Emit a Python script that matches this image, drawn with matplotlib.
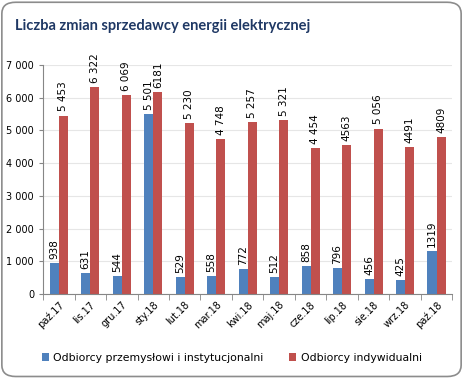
import numpy as np
import matplotlib.pyplot as plt
from matplotlib.patches import FancyBboxPatch

#- Data:
months = ['paź.17', 'lis.17', 'gru.17', 'sty.18', 'lut.18', 'mar.18', 'kwi.18',
          'maj.18', 'cze.18', 'lip.18', 'sie.18', 'wrz.18', 'paź.18']
industrial = [938, 631, 544, 5501, 529, 558, 772, 512, 858, 796, 456, 425, 1319]
households = [5453, 6322, 6069, 6181, 5230, 4748, 5257, 5321, 4454, 4563, 5056, 4491, 4809]
industrial_labels = ['938', '631', '544', '5 501', '529', '558', '772', '512', '858',
                     '796', '456', '425', '1319']
household_labels = ['5 453', '6 322', '6 069', '6181', '5 230', '4 748', '5 257', '5 321',
                    '4 454', '4563', '5 056', '4491', '4809']
yticks = [0, 1000, 2000, 3000, 4000, 5000, 6000, 7000]
ytick_labels = ['0', '1 000', '2 000', '3 000', '4 000', '5 000', '6 000', '7 000']

blue = '#4F81BD'
red = '#C0504D'

fig = plt.figure(figsize=(4.63, 3.78), dpi=100)
frame = FancyBboxPatch((0.004, 0.004), 0.992, 0.99,
                       boxstyle='round,pad=0,rounding_size=0.03',
                       transform=fig.transFigure, fc='white',
                       ec='#8c8c8c', lw=1.2, zorder=-10)
fig.patches.append(frame)
fig.text(0.032, 0.92, 'Liczba zmian sprzedawcy energii elektrycznej',
         fontsize=10.5, fontweight='bold', color='#1F3864', family='Lato')

ax = fig.add_axes([0.093, 0.222, 0.884, 0.606])
ax.patch.set_alpha(0)
x = np.arange(len(months))
w = 0.29
b1 = ax.bar(x - w / 2, industrial, w, color=blue, label='Odbiorcy przemysłowi i instytucjonalni', zorder=2)
b2 = ax.bar(x + w / 2, households, w, color=red, label='Odbiorcy indywidualni', zorder=2)

for rect, lab in zip(b1, industrial_labels):
    ax.annotate(lab, (rect.get_x() + rect.get_width() / 2, rect.get_height()),
                xytext=(0, 3), textcoords='offset points', rotation=90,
                ha='center', va='bottom', fontsize=7.5)
for rect, lab in zip(b2, household_labels):
    ax.annotate(lab, (rect.get_x() + rect.get_width() / 2, rect.get_height()),
                xytext=(0, 3), textcoords='offset points', rotation=90,
                ha='center', va='bottom', fontsize=7.5)

ax.set_xlim(-0.5, len(months) - 0.5)
ax.set_ylim(0, 7000)
ax.set_yticks(yticks)
ax.set_yticklabels(ytick_labels, fontsize=7)
ax.set_xticks(x)
ax.set_xticklabels(months, rotation=45, ha='right', rotation_mode='anchor', fontsize=7)
ax.tick_params(axis='x', length=0, pad=4)
ax.set_xticks(np.arange(len(months) + 1) - 0.5, minor=True)
ax.tick_params(axis='x', which='minor', length=4, color='#868686')
ax.tick_params(axis='y', length=3, color='#868686')
ax.grid(axis='y', color='#e6e6e6', lw=0.8, zorder=0)
for s in ['top', 'right']:
    ax.spines[s].set_visible(False)
for s in ['left', 'bottom']:
    ax.spines[s].set_color('#868686')

fig.legend(handles=[b1, b2], loc='center', bbox_to_anchor=(0.5, 0.053), ncol=2,
           frameon=False, fontsize=7.8, handlelength=0.7, handleheight=0.7,
           columnspacing=2.3, handletextpad=0.4)

fig.savefig('out.png', dpi=100)
